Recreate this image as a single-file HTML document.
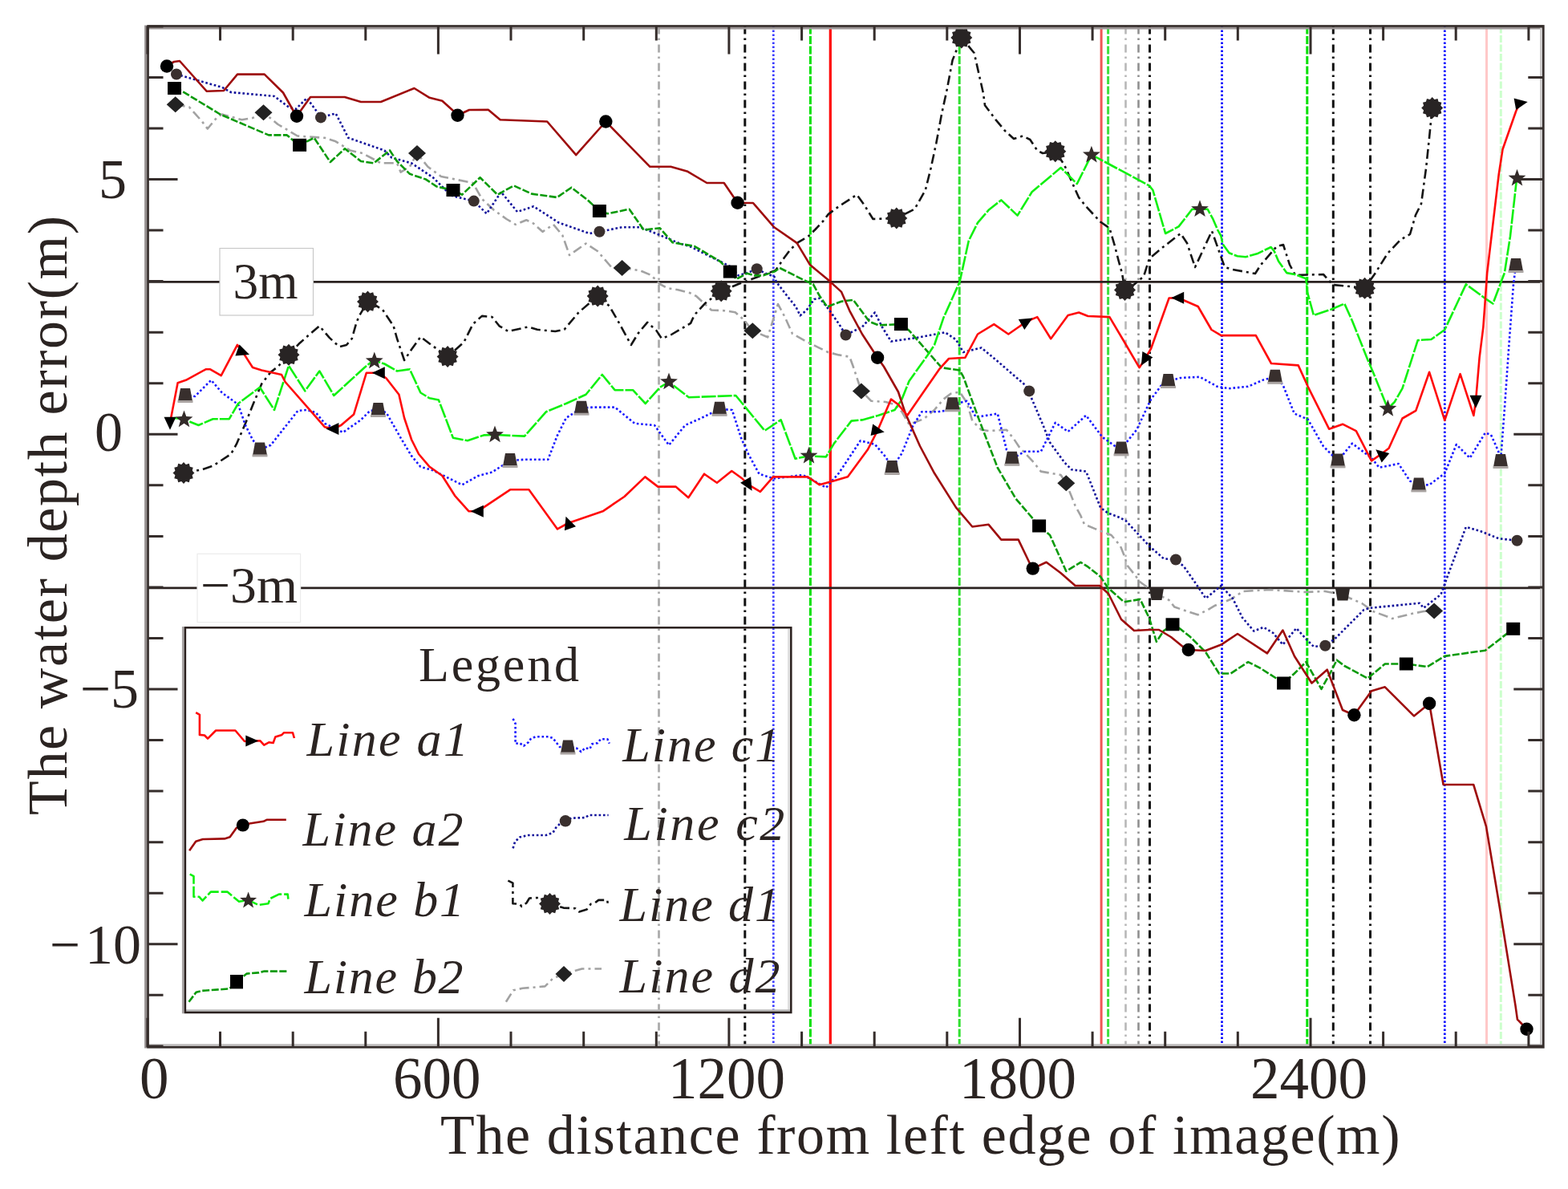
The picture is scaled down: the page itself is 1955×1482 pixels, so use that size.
<!DOCTYPE html><html><head><meta charset="utf-8"><style>html,body{margin:0;padding:0;background:#fff;}svg{display:block}</style></head><body>
<svg width="1955" height="1482" viewBox="0 0 1955 1482">
<rect width="1955" height="1482" fill="#fff"/>
<g id="vlines"><line x1="821.5" y1="32.5" x2="821.5" y2="1305.3" stroke="#acacac" stroke-width="2.8" stroke-dasharray="10 5 2.5 5.5" opacity="1"/><line x1="928.8" y1="32.5" x2="928.8" y2="1305.3" stroke="#111" stroke-width="3" stroke-dasharray="10 5 2.5 5.5" opacity="1"/><line x1="964.3" y1="32.5" x2="964.3" y2="1305.3" stroke="#3b3bff" stroke-width="2.7" stroke-dasharray="2.6 2.4" opacity="1"/><line x1="1010.4" y1="32.5" x2="1010.4" y2="1305.3" stroke="#00e000" stroke-width="3" stroke-dasharray="10 2.5" opacity="1"/><line x1="1035.3" y1="32.5" x2="1035.3" y2="1305.3" stroke="#ff0000" stroke-width="3.2" opacity="1"/><line x1="1196.2" y1="32.5" x2="1196.2" y2="1305.3" stroke="#30e030" stroke-width="3" stroke-dasharray="10 2.5" opacity="1"/><line x1="1373.1" y1="32.5" x2="1373.1" y2="1305.3" stroke="#f05555" stroke-width="3" opacity="1"/><line x1="1381.6" y1="32.5" x2="1381.6" y2="1305.3" stroke="#40e040" stroke-width="3" stroke-dasharray="10 2.5" opacity="1"/><line x1="1403.5" y1="32.5" x2="1403.5" y2="1305.3" stroke="#b8b8b8" stroke-width="2.6" stroke-dasharray="10 5 2.5 5.5" opacity="1"/><line x1="1419.5" y1="32.5" x2="1419.5" y2="1305.3" stroke="#909090" stroke-width="2.6" stroke-dasharray="10 5 2.5 5.5" opacity="1"/><line x1="1433.5" y1="32.5" x2="1433.5" y2="1305.3" stroke="#111" stroke-width="3" stroke-dasharray="10 5 2.5 5.5" opacity="1"/><line x1="1523.5" y1="32.5" x2="1523.5" y2="1305.3" stroke="#0000ff" stroke-width="2.7" stroke-dasharray="2.6 2.4" opacity="1"/><line x1="1629.8" y1="32.5" x2="1629.8" y2="1305.3" stroke="#00e000" stroke-width="3" stroke-dasharray="10 2.5" opacity="1"/><line x1="1662.3" y1="32.5" x2="1662.3" y2="1305.3" stroke="#111" stroke-width="3" stroke-dasharray="10 5 2.5 5.5" opacity="1"/><line x1="1708.5" y1="32.5" x2="1708.5" y2="1305.3" stroke="#111" stroke-width="3" stroke-dasharray="10 5 2.5 5.5" opacity="1"/><line x1="1801.3" y1="32.5" x2="1801.3" y2="1305.3" stroke="#0000ff" stroke-width="2.7" stroke-dasharray="2.6 2.4" opacity="1"/><line x1="1853.5" y1="32.5" x2="1853.5" y2="1305.3" stroke="#ffc8c8" stroke-width="3" opacity="1"/><line x1="1871.3" y1="32.5" x2="1871.3" y2="1305.3" stroke="#ccffcc" stroke-width="3" stroke-dasharray="9 2.5" opacity="1"/></g>
<line x1="184.5" y1="351.3" x2="1924.3" y2="351.3" stroke="#2a2220" stroke-width="2.8"/>
<line x1="184.5" y1="732.8" x2="1924.3" y2="732.8" stroke="#2a2220" stroke-width="2.8"/>
<polyline points="218.7,130.3 236.0,133.5 252.0,151.5 258.8,160.5 270.0,147.0 276.8,142.5 301.5,149.3 315.0,147.0 328.5,140.3 346.5,155.0 371.0,169.5 405.0,171.8 418.6,176.3 436.6,187.5 452.0,191.0 474.8,203.3 495.0,203.3 499.6,214.6 511.0,207.8 520.0,191.0 533.4,207.8 550.0,220.0 589.6,228.0 601.0,248.0 615.8,261.8 631.5,273.0 642.8,279.8 656.3,274.2 665.3,278.7 676.5,288.8 690.0,279.8 701.3,293.3 710.0,318.0 730.5,303.5 745.0,313.0 762.0,332.7 775.6,333.9 798.0,337.2 811.6,342.9 822.8,354.0 831.8,359.0 845.3,361.3 860.0,365.0 868.0,369.0 887.0,386.5 903.0,387.2 916.7,389.2 927.5,398.7 938.3,412.2 957.2,420.3 970.0,379.0 979.0,396.0 988.0,416.0 1003.0,424.3 1020.9,433.3 1032.3,439.0 1045.8,442.4 1059.3,444.7 1063.8,457.0 1068.3,470.5 1073.9,487.4 1086.3,499.8 1104.3,501.0 1115.5,504.3 1124.5,513.3 1133.5,529.0 1151.5,522.3 1165.0,511.0 1176.3,497.6 1185.3,490.8 1196.6,488.5 1205.6,502.0 1212.3,524.6 1223.6,535.8 1232.6,537.0 1255.0,535.8 1264.0,547.0 1270.8,557.2 1288.8,576.3 1297.8,587.6 1322.6,592.0 1329.3,602.2 1340.6,630.3 1347.4,642.7 1351.9,653.5 1365.4,659.1 1385.6,667.0 1396.9,680.5 1401.4,691.8 1405.9,705.3 1414.9,716.5 1421.6,725.5 1441.5,740.0 1457.6,748.0 1464.4,756.6 1476.0,760.5 1493.5,766.3 1505.2,760.5 1515.0,754.7 1534.4,747.0 1550.0,737.0 1583.0,735.0 1628.0,738.0 1652.0,737.0 1673.3,741.0 1684.0,746.0 1698.0,752.0 1712.0,762.0 1736.0,771.0 1760.0,765.0 1775.0,762.0 1788.1,761.4" fill="none" stroke="#a2a2a2" stroke-width="2.6" stroke-linejoin="round" stroke-dasharray="12 5 3 5"/>
<polyline points="228.4,589.7 252.0,585.2 265.5,580.7 288.0,566.0 294.8,553.7 306.0,527.8 315.0,505.3 326.3,478.3 337.6,463.7 346.5,457.0 360.0,442.3 373.6,427.7 382.6,419.8 398.3,406.3 410.7,420.9 423.0,432.2 432.0,430.0 438.8,422.0 444.5,401.8 447.8,393.9 459.0,374.8 477.0,386.0 490.6,406.3 495.0,422.0 504.1,449.0 513.1,435.5 524.4,419.8 537.9,430.0 558.1,444.5 578.4,426.5 589.6,404.0 600.9,393.9 613.5,395.0 622.5,406.3 633.8,413.0 658.5,407.4 669.8,410.8 692.3,413.0 703.5,410.8 721.5,389.4 745.2,369.1 759.8,381.5 773.3,405.0 786.8,430.0 795.8,415.3 807.1,401.8 818.3,411.9 825.0,422.0 836.3,417.5 849.8,409.6 861.1,402.9 865.6,392.8 879.1,378.1 899.2,362.8 922.0,353.5 967.0,337.0 977.4,321.8 985.5,311.0 995.0,302.2 1008.4,294.1 1016.5,286.0 1026.0,275.9 1032.7,267.1 1046.2,257.0 1068.3,242.7 1077.3,255.0 1088.5,273.0 1117.8,272.0 1140.3,260.7 1153.8,237.0 1160.5,210.0 1167.3,178.5 1174.0,142.5 1180.8,111.0 1187.6,75.0 1198.8,46.9 1214.6,66.0 1225.8,115.5 1228.0,131.3 1241.6,149.3 1252.8,162.8 1264.0,173.0 1275.3,169.5 1284.3,174.0 1293.3,187.5 1300.0,191.0 1315.8,188.7 1327.0,205.6 1345.0,246.0 1354.0,257.3 1372.0,276.5 1383.4,284.3 1390.0,306.8 1394.6,324.8 1399.0,340.6 1402.5,361.4 1412.6,355.8 1426.0,344.5 1432.9,322.6 1447.6,310.0 1472.0,291.0 1480.0,303.0 1490.0,333.0 1511.0,288.0 1527.0,333.0 1537.0,336.0 1565.0,341.0 1572.0,330.0 1592.0,307.0 1600.0,305.0 1608.0,330.0 1615.0,343.0 1650.0,342.0 1662.0,355.0 1683.0,357.0 1701.6,359.3 1715.0,340.0 1730.0,316.0 1746.0,299.0 1758.0,292.0 1765.0,268.0 1772.0,254.0 1778.0,210.0 1782.0,172.0 1785.7,134.6" fill="none" stroke="#151515" stroke-width="2.6" stroke-linejoin="round" stroke-dasharray="12 5 3 5"/>
<polyline points="220.0,92.5 276.8,108.8 288.0,115.0 342.0,120.0 360.0,133.5 369.0,135.8 382.6,122.3 396.0,140.3 400.0,146.4 418.6,141.4 434.3,171.8 479.3,187.5 488.4,196.6 513.0,203.3 540.0,221.3 562.6,243.8 590.8,250.6 606.8,266.3 624.8,239.3 645.0,264.0 665.3,257.3 696.8,277.6 735.0,291.0 747.4,288.8 775.6,283.2 798.0,283.2 820.6,292.2 847.6,303.5 860.0,307.0 900.5,327.2 911.3,332.6 920.7,343.4 930.2,340.7 943.7,335.3 954.5,340.7 965.3,344.7 968.0,351.5 981.5,369.0 992.3,382.5 997.7,393.3 1005.7,386.5 1015.2,373.0 1022.0,371.7 1034.0,386.5 1046.2,404.1 1054.5,417.5 1075.0,407.5 1090.8,389.5 1099.8,407.5 1111.0,425.5 1142.5,421.0 1178.5,414.3 1192.0,423.3 1201.0,439.0 1223.6,433.4 1243.8,450.3 1277.6,479.5 1283.2,487.4 1286.6,497.6 1300.1,529.0 1309.1,551.6 1327.1,576.3 1336.1,585.3 1354.1,587.6 1372.1,632.6 1381.1,639.3 1394.6,644.5 1403.6,649.0 1432.9,680.5 1450.9,696.3 1466.0,697.5 1476.0,706.0 1489.7,725.5 1503.3,745.8 1522.5,730.1 1536.9,745.8 1549.0,769.8 1563.4,786.6 1575.4,781.8 1587.4,789.0 1599.4,803.5 1616.3,783.0 1628.3,796.3 1637.9,805.9 1652.3,804.7 1664.3,796.3 1700.4,760.2 1707.6,757.8 1770.1,751.8 1774.9,757.8 1796.5,741.0 1806.2,714.5 1827.8,656.8 1844.6,661.6 1868.7,671.3 1891.5,673.7" fill="none" stroke="#10109a" stroke-width="2.6" stroke-linejoin="round" stroke-dasharray="2.6 2.8"/>
<polyline points="230.6,491.8 243.0,494.0 263.3,473.8 276.8,489.5 297.0,504.2 306.0,530.0 315.0,548.0 324.0,560.4 337.6,554.8 371.3,512.0 382.6,511.0 393.8,514.3 405.0,527.8 427.6,539.0 450.0,523.3 461.3,512.0 471.5,511.0 481.6,514.3 499.6,545.8 513.1,568.3 524.4,581.8 540.0,586.3 558.0,595.3 576.1,604.3 596.4,593.0 613.5,588.6 636.0,574.0 654.0,572.8 683.3,572.8 694.5,543.6 705.8,521.0 725.0,508.7 739.5,507.6 766.6,507.6 791.3,527.8 816.0,530.0 834.0,554.8 854.3,530.0 874.6,521.0 897.1,509.8 912.8,511.0 924.0,545.8 933.1,566.0 946.6,590.8 964.6,596.5 1000.6,592.0 1011.9,597.6 1030.0,607.8 1045.8,589.8 1059.3,569.6 1072.8,549.3 1090.8,553.8 1104.3,569.6 1112.2,583.0 1124.5,565.0 1138.0,531.3 1149.3,513.3 1169.5,513.3 1183.0,511.0 1187.6,504.3 1205.6,499.8 1216.8,520.0 1243.8,515.6 1255.0,560.6 1261.8,571.8 1277.6,562.8 1297.8,562.8 1309.1,540.3 1315.8,526.8 1331.6,538.0 1354.1,517.8 1374.4,544.8 1390.1,556.0 1398.0,559.4 1417.1,535.8 1435.1,497.6 1448.6,479.5 1456.5,475.0 1472.0,471.0 1496.0,469.8 1517.7,481.8 1532.0,484.2 1556.0,481.8 1575.4,473.4 1589.8,469.8 1599.4,479.4 1613.8,515.5 1630.7,522.7 1650.0,556.3 1668.0,574.4 1686.0,552.7 1710.0,570.8 1719.6,582.8 1743.7,578.0 1758.0,599.6 1768.9,604.4 1782.0,604.4 1801.3,590.0 1815.8,554.0 1832.6,570.8 1851.8,539.5 1859.0,542.0 1868.0,562.0 1871.0,575.0 1876.0,508.0 1881.0,436.0 1887.0,354.0 1890.0,331.0" fill="none" stroke="#1818ff" stroke-width="2.6" stroke-linejoin="round" stroke-dasharray="2.6 2.8"/>
<polyline points="217.5,110.0 226.0,113.0 274.5,142.5 335.0,168.4 357.8,168.4 366.8,176.0 373.6,180.8 391.6,171.8 411.8,202.0 430.0,185.3 450.0,201.0 466.0,203.3 486.0,187.5 495.0,201.0 511.0,216.8 531.0,223.6 544.6,232.6 565.0,237.0 576.0,242.7 598.6,221.3 620.3,242.7 640.5,231.4 663.0,241.6 694.5,246.0 712.5,233.7 732.8,249.4 747.4,263.0 757.6,266.3 784.6,260.7 802.6,286.6 822.8,284.3 838.6,302.3 865.6,306.8 897.8,325.8 910.3,338.6 918.0,348.0 931.5,340.7 941.0,343.4 951.8,343.4 966.6,338.0 972.0,333.9 1001.7,348.8 1013.8,354.2 1022.0,369.0 1031.4,382.5 1038.1,379.8 1049.0,375.7 1063.8,373.8 1084.0,400.8 1095.3,405.3 1123.4,404.1 1133.5,412.0 1174.0,458.2 1196.5,461.5 1201.0,469.4 1221.3,524.6 1243.8,583.0 1266.3,621.3 1295.6,655.5 1309.1,667.0 1329.3,712.0 1347.4,700.8 1356.4,706.4 1372.1,718.8 1381.1,732.3 1401.4,750.3 1421.6,747.0 1432.9,770.5 1441.9,799.8 1450.9,786.3 1462.0,778.3 1472.0,784.2 1484.0,793.8 1503.3,813.0 1520.0,839.5 1534.5,839.5 1556.2,825.1 1570.6,832.3 1600.6,851.5 1613.8,839.5 1628.3,825.1 1637.9,842.0 1647.5,858.8 1659.5,837.1 1666.7,822.7 1676.3,830.0 1705.2,845.5 1726.8,827.5 1753.3,827.5 1779.7,831.1 1801.3,817.9 1851.8,810.7 1886.7,783.8" fill="none" stroke="#0a9a0a" stroke-width="2.6" stroke-linejoin="round" stroke-dasharray="9 2.5"/>
<polyline points="217.0,521.0 228.4,522.2 247.5,530.0 265.5,522.2 285.8,522.2 297.0,503.0 324.0,482.8 342.0,511.0 360.0,455.8 380.3,487.3 398.3,462.5 416.3,493.0 454.6,458.0 465.8,449.0 479.3,453.5 495.0,462.5 510.9,460.3 524.4,489.5 535.6,496.3 546.9,498.5 564.9,545.8 582.9,549.2 603.1,542.4 617.0,542.0 654.0,543.6 681.0,513.2 705.8,503.0 730.5,491.8 750.8,467.0 766.6,486.2 789.1,486.2 804.8,503.0 822.8,482.8 834.0,476.0 858.8,495.2 917.4,493.0 953.4,536.8 973.6,523.3 991.6,571.7 1008.5,568.3 1029.9,569.4 1040.0,552.6 1061.5,524.6 1075.0,523.4 1095.3,517.8 1115.5,511.0 1124.5,497.6 1133.5,475.0 1156.0,443.5 1165.0,430.0 1176.3,396.3 1196.6,351.3 1207.8,300.0 1219.0,277.6 1232.6,261.8 1248.3,249.4 1268.6,268.6 1286.6,239.3 1322.6,209.0 1342.8,229.2 1358.6,197.7 1360.9,193.2 1369.9,197.7 1403.6,215.7 1432.9,231.4 1437.4,237.0 1453.1,291.0 1469.6,282.4 1486.4,260.8 1496.0,260.8 1505.7,260.8 1512.0,272.3 1518.2,286.6 1522.3,293.8 1524.4,304.0 1532.5,315.2 1542.8,319.3 1553.0,320.3 1567.3,316.3 1584.7,308.0 1588.8,313.2 1594.0,325.5 1604.2,340.1 1616.3,342.5 1628.3,347.3 1630.0,364.0 1637.9,392.9 1659.5,385.7 1676.3,378.5 1686.0,400.0 1705.2,448.2 1712.4,465.0 1730.4,509.5 1738.8,501.0 1748.5,484.2 1767.7,424.1 1784.5,423.0 1801.3,411.0 1827.8,354.4 1854.2,373.7 1861.4,378.5 1875.9,340.0 1883.0,294.4 1890.3,229.5 1891.5,222.3" fill="none" stroke="#10f010" stroke-width="2.6" stroke-linejoin="round" stroke-dasharray="18 2"/>
<polyline points="207.5,81.8 217.0,77.0 224.0,76.0 257.6,113.7 279.0,113.0 296.0,92.6 329.7,92.6 353.0,115.5 366.8,140.0 370.0,144.8 387.0,121.0 429.8,121.0 450.0,127.0 474.8,127.0 516.5,110.0 535.6,121.8 551.4,125.7 565.0,138.0 570.5,143.7 585.0,137.0 609.0,136.9 623.6,149.3 682.2,151.5 718.2,193.2 755.3,151.5 762.0,158.3 810.4,207.8 836.3,207.8 856.6,213.4 881.3,228.0 902.7,228.0 919.6,252.8 939.0,253.0 965.3,283.3 993.6,302.9 1009.8,329.9 1034.0,350.1 1048.9,363.6 1059.3,387.3 1075.0,416.5 1094.1,445.8 1102.0,457.0 1120.0,488.5 1129.0,515.6 1147.0,556.0 1165.0,589.8 1192.0,632.6 1212.3,656.5 1232.6,653.8 1248.3,672.6 1269.7,672.6 1284.3,703.0 1287.7,708.6 1304.6,700.8 1322.6,714.3 1340.6,730.0 1371.0,730.0 1382.0,740.0 1398.0,772.0 1414.0,786.0 1433.0,785.0 1445.0,785.0 1460.0,794.0 1476.0,807.0 1481.8,810.0 1503.0,811.0 1522.6,803.5 1543.0,790.0 1580.0,814.3 1599.4,785.5 1614.0,818.0 1635.5,851.5 1654.7,834.7 1674.0,885.0 1688.4,891.2 1710.0,861.2 1726.8,856.3 1762.9,892.4 1774.9,882.8 1782.1,876.8 1794.7,950.0 1799.6,978.0 1837.2,978.0 1853.0,1030.2 1870.0,1132.2 1889.5,1253.6 1891.9,1270.6 1896.7,1275.5 1903.5,1282.8" fill="none" stroke="#9e0c0c" stroke-width="2.6" stroke-linejoin="round"/>
<polyline points="212.0,527.0 221.6,477.2 231.8,473.8 256.5,460.3 262.2,460.3 275.7,468.2 295.9,429.9 302.7,438.9 315.0,458.0 326.3,461.4 351.0,467.0 355.6,476.0 405.0,532.3 415.2,534.6 425.3,530.0 441.1,516.5 456.8,464.8 472.6,464.8 481.6,471.5 497.4,491.8 504.1,521.0 513.1,548.0 522.1,566.0 535.6,581.8 551.4,593.0 567.1,617.8 584.6,637.3 595.6,637.3 636.1,610.3 659.4,610.3 695.0,659.4 708.5,652.0 751.5,637.3 778.5,619.0 804.3,594.4 820.3,606.6 842.4,606.6 858.3,620.2 878.0,590.7 893.9,601.7 912.3,587.0 925.8,596.8 933.2,604.2 947.9,612.8 964.0,594.4 1007.0,594.4 1021.6,604.2 1040.0,599.3 1057.0,594.3 1081.8,560.6 1094.0,537.0 1111.0,497.6 1120.0,504.3 1131.3,517.8 1151.5,488.5 1171.8,459.3 1183.0,447.0 1203.3,445.8 1219.0,416.5 1239.3,404.1 1257.3,416.5 1279.8,400.8 1293.3,395.1 1310.2,422.2 1331.6,392.9 1345.1,389.5 1356.4,394.0 1383.4,395.1 1401.4,425.5 1420.5,458.2 1427.3,448.0 1435.1,434.5 1457.6,371.5 1469.0,371.3 1493.7,382.0 1510.5,411.0 1522.5,418.1 1565.8,418.1 1585.0,453.0 1618.7,455.4 1630.7,481.8 1657.1,534.7 1674.0,528.7 1690.8,537.1 1710.0,574.4 1722.0,566.0 1731.6,558.8 1748.5,521.5 1765.3,511.9 1782.1,463.8 1801.3,523.9 1820.6,466.2 1837.4,517.9 1840.0,500.0 1844.6,445.8 1849.4,407.3 1854.2,340.0 1868.7,217.5 1873.5,186.3 1890.3,138.2 1895.0,128.6" fill="none" stroke="#ff0a0a" stroke-width="2.6" stroke-linejoin="round"/>
<polygon points="218.7,120.3 229.7,130.3 218.7,140.3 207.7,130.3" fill="#222"/>
<polygon points="328.5,130.3 339.5,140.3 328.5,150.3 317.5,140.3" fill="#222"/>
<polygon points="520.0,181.0 531.0,191.0 520.0,201.0 509.0,191.0" fill="#222"/>
<polygon points="775.6,323.9 786.6,333.9 775.6,343.9 764.6,333.9" fill="#222"/>
<polygon points="938.3,402.2 949.3,412.2 938.3,422.2 927.3,412.2" fill="#222"/>
<polygon points="1073.9,477.4 1084.9,487.4 1073.9,497.4 1062.9,487.4" fill="#222"/>
<polygon points="1329.3,592.2 1340.3,602.2 1329.3,612.2 1318.3,602.2" fill="#222"/>
<polygon points="1788.1,751.4 1799.1,761.4 1788.1,771.4 1777.1,761.4" fill="#222"/>
<polygon points="229.0,576.0 231.8,578.9 235.8,577.8 236.8,581.7 240.7,582.8 239.6,586.7 242.5,589.5 239.6,592.3 240.7,596.2 236.8,597.3 235.8,601.2 231.8,600.1 229.0,603.0 226.2,600.1 222.2,601.2 221.2,597.3 217.3,596.2 218.4,592.3 215.5,589.5 218.4,586.7 217.3,582.8 221.2,581.7 222.2,577.8 226.2,578.9" fill="#282424"/>
<polygon points="360.0,428.8 362.8,431.7 366.8,430.6 367.8,434.5 371.7,435.6 370.6,439.5 373.5,442.3 370.6,445.1 371.7,449.1 367.8,450.1 366.8,454.0 362.8,452.9 360.0,455.8 357.2,452.9 353.2,454.0 352.2,450.1 348.3,449.1 349.4,445.1 346.5,442.3 349.4,439.5 348.3,435.6 352.2,434.5 353.2,430.6 357.2,431.7" fill="#282424"/>
<polygon points="458.5,362.5 461.3,365.4 465.2,364.3 466.3,368.2 470.2,369.2 469.1,373.2 472.0,376.0 469.1,378.8 470.2,382.8 466.3,383.8 465.2,387.7 461.3,386.6 458.5,389.5 455.7,386.6 451.8,387.7 450.7,383.8 446.8,382.8 447.9,378.8 445.0,376.0 447.9,373.2 446.8,369.2 450.7,368.2 451.8,364.3 455.7,365.4" fill="#282424"/>
<polygon points="558.1,431.0 560.9,433.9 564.9,432.8 565.9,436.7 569.8,437.8 568.7,441.7 571.6,444.5 568.7,447.3 569.8,451.2 565.9,452.3 564.9,456.2 560.9,455.1 558.1,458.0 555.3,455.1 551.4,456.2 550.3,452.3 546.4,451.2 547.5,447.3 544.6,444.5 547.5,441.7 546.4,437.8 550.3,436.7 551.4,432.8 555.3,433.9" fill="#282424"/>
<polygon points="745.2,355.6 748.0,358.5 752.0,357.4 753.0,361.3 756.9,362.4 755.8,366.3 758.7,369.1 755.8,371.9 756.9,375.9 753.0,376.9 752.0,380.8 748.0,379.7 745.2,382.6 742.4,379.7 738.5,380.8 737.4,376.9 733.5,375.9 734.6,371.9 731.7,369.1 734.6,366.3 733.5,362.4 737.4,361.3 738.5,357.4 742.4,358.5" fill="#282424"/>
<polygon points="899.2,349.3 902.0,352.2 906.0,351.1 907.0,355.0 910.9,356.1 909.8,360.0 912.7,362.8 909.8,365.6 910.9,369.6 907.0,370.6 906.0,374.5 902.0,373.4 899.2,376.3 896.4,373.4 892.5,374.5 891.4,370.6 887.5,369.6 888.6,365.6 885.7,362.8 888.6,360.0 887.5,356.1 891.4,355.0 892.5,351.1 896.4,352.2" fill="#282424"/>
<polygon points="1117.8,258.5 1120.6,261.4 1124.5,260.3 1125.6,264.2 1129.5,265.2 1128.4,269.2 1131.3,272.0 1128.4,274.8 1129.5,278.8 1125.6,279.8 1124.5,283.7 1120.6,282.6 1117.8,285.5 1115.0,282.6 1111.0,283.7 1110.0,279.8 1106.1,278.8 1107.2,274.8 1104.3,272.0 1107.2,269.2 1106.1,265.2 1110.0,264.2 1111.0,260.3 1115.0,261.4" fill="#282424"/>
<polygon points="1198.8,33.4 1201.6,36.3 1205.5,35.2 1206.6,39.1 1210.5,40.1 1209.4,44.1 1212.3,46.9 1209.4,49.7 1210.5,53.6 1206.6,54.7 1205.5,58.6 1201.6,57.5 1198.8,60.4 1196.0,57.5 1192.0,58.6 1191.0,54.7 1187.1,53.6 1188.2,49.7 1185.3,46.9 1188.2,44.1 1187.1,40.1 1191.0,39.1 1192.0,35.2 1196.0,36.3" fill="#282424"/>
<polygon points="1315.8,175.2 1318.6,178.1 1322.5,177.0 1323.6,180.9 1327.5,181.9 1326.4,185.9 1329.3,188.7 1326.4,191.5 1327.5,195.4 1323.6,196.5 1322.5,200.4 1318.6,199.3 1315.8,202.2 1313.0,199.3 1309.0,200.4 1308.0,196.5 1304.1,195.4 1305.2,191.5 1302.3,188.7 1305.2,185.9 1304.1,181.9 1308.0,180.9 1309.0,177.0 1313.0,178.1" fill="#282424"/>
<polygon points="1402.5,347.9 1405.3,350.8 1409.2,349.7 1410.3,353.6 1414.2,354.6 1413.1,358.6 1416.0,361.4 1413.1,364.2 1414.2,368.1 1410.3,369.2 1409.2,373.1 1405.3,372.0 1402.5,374.9 1399.7,372.0 1395.8,373.1 1394.7,369.2 1390.8,368.1 1391.9,364.2 1389.0,361.4 1391.9,358.6 1390.8,354.6 1394.7,353.6 1395.8,349.7 1399.7,350.8" fill="#282424"/>
<polygon points="1701.6,345.8 1704.4,348.7 1708.3,347.6 1709.4,351.5 1713.3,352.6 1712.2,356.5 1715.1,359.3 1712.2,362.1 1713.3,366.1 1709.4,367.1 1708.3,371.0 1704.4,369.9 1701.6,372.8 1698.8,369.9 1694.8,371.0 1693.8,367.1 1689.9,366.1 1691.0,362.1 1688.1,359.3 1691.0,356.5 1689.9,352.6 1693.8,351.5 1694.8,347.6 1698.8,348.7" fill="#282424"/>
<polygon points="1785.7,121.1 1788.5,124.0 1792.5,122.9 1793.5,126.8 1797.4,127.8 1796.3,131.8 1799.2,134.6 1796.3,137.4 1797.4,141.3 1793.5,142.4 1792.5,146.3 1788.5,145.2 1785.7,148.1 1782.9,145.2 1779.0,146.3 1777.9,142.4 1774.0,141.3 1775.1,137.4 1772.2,134.6 1775.1,131.8 1774.0,127.8 1777.9,126.8 1779.0,122.9 1782.9,124.0" fill="#282424"/>
<circle cx="220" cy="92.5" r="7" fill="#3a302e"/>
<circle cx="400" cy="146.4" r="7" fill="#3a302e"/>
<circle cx="590.8" cy="250.6" r="7" fill="#3a302e"/>
<circle cx="747.4" cy="288.8" r="7" fill="#3a302e"/>
<circle cx="943.7" cy="335.3" r="7" fill="#3a302e"/>
<circle cx="1054.5" cy="417.5" r="7" fill="#3a302e"/>
<circle cx="1283.2" cy="487.4" r="7" fill="#3a302e"/>
<circle cx="1466" cy="697.5" r="7" fill="#3a302e"/>
<circle cx="1652.3" cy="804.7" r="7" fill="#3a302e"/>
<circle cx="1891.5" cy="673.7" r="7" fill="#3a302e"/>
<polygon points="225.0,484.0 237.0,484.0 240.0,500.0 222.0,500.0" fill="#382f2d"/><rect x="221.5" y="499.0" width="19" height="3" fill="#a9a3a1"/>
<polygon points="318.0,551.4 330.0,551.4 333.0,567.4 315.0,567.4" fill="#382f2d"/><rect x="314.5" y="566.4" width="19" height="3" fill="#a9a3a1"/>
<polygon points="465.5,502.0 477.5,502.0 480.5,518.0 462.5,518.0" fill="#382f2d"/><rect x="462.0" y="517.0" width="19" height="3" fill="#a9a3a1"/>
<polygon points="630.0,565.0 642.0,565.0 645.0,581.0 627.0,581.0" fill="#382f2d"/><rect x="626.5" y="580.0" width="19" height="3" fill="#a9a3a1"/>
<polygon points="719.0,499.7 731.0,499.7 734.0,515.7 716.0,515.7" fill="#382f2d"/><rect x="715.5" y="514.7" width="19" height="3" fill="#a9a3a1"/>
<polygon points="891.1,500.8 903.1,500.8 906.1,516.8 888.1,516.8" fill="#382f2d"/><rect x="887.6" y="515.8" width="19" height="3" fill="#a9a3a1"/>
<polygon points="1106.2,574.0 1118.2,574.0 1121.2,590.0 1103.2,590.0" fill="#382f2d"/><rect x="1102.7" y="589.0" width="19" height="3" fill="#a9a3a1"/>
<polygon points="1181.6,495.3 1193.6,495.3 1196.6,511.3 1178.6,511.3" fill="#382f2d"/><rect x="1178.1" y="510.3" width="19" height="3" fill="#a9a3a1"/>
<polygon points="1255.8,562.8 1267.8,562.8 1270.8,578.8 1252.8,578.8" fill="#382f2d"/><rect x="1252.3" y="577.8" width="19" height="3" fill="#a9a3a1"/>
<polygon points="1392.0,550.4 1404.0,550.4 1407.0,566.4 1389.0,566.4" fill="#382f2d"/><rect x="1388.5" y="565.4" width="19" height="3" fill="#a9a3a1"/>
<polygon points="1450.5,466.0 1462.5,466.0 1465.5,482.0 1447.5,482.0" fill="#382f2d"/><rect x="1447.0" y="481.0" width="19" height="3" fill="#a9a3a1"/>
<polygon points="1583.8,460.8 1595.8,460.8 1598.8,476.8 1580.8,476.8" fill="#382f2d"/><rect x="1580.3" y="475.8" width="19" height="3" fill="#a9a3a1"/>
<polygon points="1662.0,565.4 1674.0,565.4 1677.0,581.4 1659.0,581.4" fill="#382f2d"/><rect x="1658.5" y="580.4" width="19" height="3" fill="#a9a3a1"/>
<polygon points="1762.9,595.4 1774.9,595.4 1777.9,611.4 1759.9,611.4" fill="#382f2d"/><rect x="1759.4" y="610.4" width="19" height="3" fill="#a9a3a1"/>
<polygon points="1865.0,566.0 1877.0,566.0 1880.0,582.0 1862.0,582.0" fill="#382f2d"/><rect x="1861.5" y="581.0" width="19" height="3" fill="#a9a3a1"/>
<polygon points="1884.0,322.0 1896.0,322.0 1899.0,338.0 1881.0,338.0" fill="#382f2d"/><rect x="1880.5" y="337.0" width="19" height="3" fill="#a9a3a1"/>
<polygon points="1433.0,733.0 1451.0,733.0 1448.5,748.0 1435.5,748.0" fill="#2e2826"/>
<polygon points="1665.0,733.5 1683.0,733.5 1680.5,748.5 1667.5,748.5" fill="#2e2826"/>
<rect x="209.0" y="102.0" width="17" height="16" fill="#000"/>
<rect x="365.1" y="172.8" width="17" height="16" fill="#000"/>
<rect x="556.5" y="229.0" width="17" height="16" fill="#000"/>
<rect x="738.9" y="255.0" width="17" height="16" fill="#000"/>
<rect x="901.8" y="330.6" width="17" height="16" fill="#000"/>
<rect x="1114.9" y="396.1" width="17" height="16" fill="#000"/>
<rect x="1287.1" y="647.5" width="17" height="16" fill="#000"/>
<rect x="1453.5" y="770.3" width="17" height="16" fill="#000"/>
<rect x="1592.1" y="843.5" width="17" height="16" fill="#000"/>
<rect x="1744.8" y="819.5" width="17" height="16" fill="#000"/>
<rect x="1878.2" y="775.8" width="17" height="16" fill="#000"/>
<polygon points="229.5,511.5 232.3,519.1 240.4,519.4 234.1,524.5 236.3,532.3 229.5,527.8 222.7,532.3 224.9,524.5 218.6,519.4 226.7,519.1" fill="#332b29"/>
<polygon points="466.8,438.5 469.6,446.1 477.7,446.4 471.4,451.5 473.6,459.3 466.8,454.8 460.0,459.3 462.2,451.5 455.9,446.4 464.0,446.1" fill="#332b29"/>
<polygon points="617.0,530.5 619.8,538.1 627.9,538.4 621.6,543.5 623.8,551.3 617.0,546.8 610.2,551.3 612.4,543.5 606.1,538.4 614.2,538.1" fill="#332b29"/>
<polygon points="834.0,464.5 836.8,472.1 844.9,472.4 838.6,477.5 840.8,485.3 834.0,480.8 827.2,485.3 829.4,477.5 823.1,472.4 831.2,472.1" fill="#332b29"/>
<polygon points="1008.5,556.8 1011.3,564.4 1019.4,564.7 1013.1,569.8 1015.3,577.6 1008.5,573.1 1001.7,577.6 1003.9,569.8 997.6,564.7 1005.7,564.4" fill="#332b29"/>
<polygon points="1360.9,181.7 1363.7,189.3 1371.8,189.6 1365.5,194.7 1367.7,202.5 1360.9,198.0 1354.1,202.5 1356.3,194.7 1350.0,189.6 1358.1,189.3" fill="#332b29"/>
<polygon points="1496.0,249.3 1498.8,256.9 1506.9,257.2 1500.6,262.3 1502.8,270.1 1496.0,265.6 1489.2,270.1 1491.4,262.3 1485.1,257.2 1493.2,256.9" fill="#332b29"/>
<polygon points="1730.4,498.0 1733.2,505.6 1741.3,505.9 1735.0,511.0 1737.2,518.8 1730.4,514.3 1723.6,518.8 1725.8,511.0 1719.5,505.9 1727.6,505.6" fill="#332b29"/>
<polygon points="1891.5,210.8 1894.3,218.4 1902.4,218.7 1896.1,223.8 1898.3,231.6 1891.5,227.1 1884.7,231.6 1886.9,223.8 1880.6,218.7 1888.7,218.4" fill="#332b29"/>
<circle cx="208" cy="82.5" r="8.2" fill="#000"/>
<circle cx="370" cy="144.8" r="8.2" fill="#000"/>
<circle cx="570.5" cy="143.7" r="8.2" fill="#000"/>
<circle cx="755.3" cy="151.5" r="8.2" fill="#000"/>
<circle cx="919.6" cy="252.8" r="8.2" fill="#000"/>
<circle cx="1094.1" cy="445.8" r="8.2" fill="#000"/>
<circle cx="1287.7" cy="708.6" r="8.2" fill="#000"/>
<circle cx="1481.8" cy="810" r="8.2" fill="#000"/>
<circle cx="1688.4" cy="891.2" r="8.2" fill="#000"/>
<circle cx="1782.1" cy="876.8" r="8.2" fill="#000"/>
<circle cx="1903.5" cy="1282.8" r="8.2" fill="#000"/>
<polygon points="212.0,535.8 204.5,519.8 219.5,519.8" fill="#000"/>
<polygon points="311.0,441.9 293.4,443.5 298.5,429.4" fill="#000"/>
<polygon points="406.4,534.6 422.4,527.1 422.4,542.1" fill="#000"/>
<polygon points="463.8,464.8 479.8,457.3 479.8,472.3" fill="#000"/>
<polygon points="586.8,637.3 602.8,629.8 602.8,644.8" fill="#000"/>
<polygon points="705.5,643.7 718.0,656.2 703.9,661.3" fill="#000"/>
<polygon points="937.6,611.8 923.1,601.7 936.1,594.2" fill="#000"/>
<polygon points="1102.7,538.5 1085.6,543.1 1088.2,528.4" fill="#000"/>
<polygon points="1287.4,396.4 1277.3,410.9 1269.8,397.9" fill="#000"/>
<polygon points="1422.9,455.6 1424.4,438.0 1437.4,445.5" fill="#000"/>
<polygon points="1460.2,371.3 1476.2,363.8 1476.2,378.8" fill="#000"/>
<polygon points="1715.3,560.3 1732.3,564.9 1722.7,576.4" fill="#000"/>
<polygon points="1840.0,508.8 1832.5,492.8 1847.5,492.8" fill="#000"/>
<polygon points="1904.7,127.0 1890.2,137.1 1887.6,122.4" fill="#000"/>
<rect x="274" y="309.5" width="116.5" height="83.5" fill="#fff" stroke="#c8c8c8" stroke-width="1.2"/>
<text x="290.5" y="372.3" font-family="Liberation Serif" font-size="64" fill="#2b2422" textLength="81" lengthAdjust="spacingAndGlyphs">3m</text>
<rect x="246" y="690.3" width="128.6" height="85.3" fill="#fff" stroke="#ececec" stroke-width="1.2"/>
<text x="250" y="751" font-family="Liberation Serif" font-size="64" fill="#2b2422" textLength="121" lengthAdjust="spacingAndGlyphs">&#8722;3m</text>
<path d="M181.6 31.5V1306.5" stroke="#979191" stroke-width="3" fill="none"/>
<path d="M185 35.2H1923" stroke="#9c9696" stroke-width="2.8" fill="none"/>
<path d="M1921.4 34V1305" stroke="#cccaca" stroke-width="2.8" fill="none"/>
<path d="M183 1302.6H1923" stroke="#bdbbbb" stroke-width="2.8" fill="none"/>
<path d="M183.9 1305.3v-36.5M183.9 32.5v35M274.5 1305.3v-19.5M274.5 32.5v18M365.2 1305.3v-19.5M365.2 32.5v18M455.8 1305.3v-19.5M455.8 32.5v18M546.4 1305.3v-36.5M546.4 32.5v35M637.0 1305.3v-19.5M637.0 32.5v18M727.7 1305.3v-19.5M727.7 32.5v18M818.3 1305.3v-19.5M818.3 32.5v18M908.9 1305.3v-36.5M908.9 32.5v35M999.6 1305.3v-19.5M999.6 32.5v18M1090.2 1305.3v-19.5M1090.2 32.5v18M1180.8 1305.3v-19.5M1180.8 32.5v18M1271.5 1305.3v-36.5M1271.5 32.5v35M1362.1 1305.3v-19.5M1362.1 32.5v18M1452.7 1305.3v-19.5M1452.7 32.5v18M1543.3 1305.3v-19.5M1543.3 32.5v18M1634.0 1305.3v-36.5M1634.0 32.5v35M1724.6 1305.3v-19.5M1724.6 32.5v18M1815.2 1305.3v-19.5M1815.2 32.5v18M1905.9 1305.3v-19.5M1905.9 32.5v18M184.5 1303.9h19M1924.3 1303.9h-19M184.5 1240.3h19M1924.3 1240.3h-19M184.5 1176.8h37M1924.3 1176.8h-37M184.5 1113.2h19M1924.3 1113.2h-19M184.5 1049.7h19M1924.3 1049.7h-19M184.5 986.1h19M1924.3 986.1h-19M184.5 922.6h19M1924.3 922.6h-19M184.5 859.0h37M1924.3 859.0h-37M184.5 795.5h19M1924.3 795.5h-19M184.5 731.9h19M1924.3 731.9h-19M184.5 668.4h19M1924.3 668.4h-19M184.5 604.8h19M1924.3 604.8h-19M184.5 541.3h37M1924.3 541.3h-37M184.5 477.7h19M1924.3 477.7h-19M184.5 414.2h19M1924.3 414.2h-19M184.5 350.6h19M1924.3 350.6h-19M184.5 287.1h19M1924.3 287.1h-19M184.5 223.5h37M1924.3 223.5h-37M184.5 160.0h19M1924.3 160.0h-19M184.5 96.4h19M1924.3 96.4h-19M184.5 32.9h19M1924.3 32.9h-19" stroke="#352d2b" stroke-width="3" fill="none"/>
<rect x="184.5" y="32.5" width="1739.8" height="1272.8" fill="none" stroke="#352d2b" stroke-width="2.7"/>
<text x="174" y="1368.5" font-family="Liberation Serif" font-size="73" fill="#2b2422" text-anchor="start" >0</text>
<text x="490" y="1368.5" font-family="Liberation Serif" font-size="73" fill="#2b2422" text-anchor="start" >600</text>
<text x="833" y="1368.5" font-family="Liberation Serif" font-size="73" fill="#2b2422" text-anchor="start" >1200</text>
<text x="1196" y="1368.5" font-family="Liberation Serif" font-size="73" fill="#2b2422" text-anchor="start" >1800</text>
<text x="1559" y="1368.5" font-family="Liberation Serif" font-size="73" fill="#2b2422" text-anchor="start" >2400</text>
<text x="158" y="246.5" font-family="Liberation Serif" font-size="70" fill="#2b2422" text-anchor="end" >5</text>
<text x="153" y="562" font-family="Liberation Serif" font-size="70" fill="#2b2422" text-anchor="end" >0</text>
<text x="100" y="882" font-family="Liberation Serif" font-size="70" fill="#2b2422" text-anchor="start" textLength="38" lengthAdjust="spacingAndGlyphs">&#8722;</text>
<text x="173" y="882" font-family="Liberation Serif" font-size="70" fill="#2b2422" text-anchor="end" >5</text>
<text x="62" y="1200.5" font-family="Liberation Serif" font-size="70" fill="#2b2422" text-anchor="start" textLength="38" lengthAdjust="spacingAndGlyphs">&#8722;</text>
<text x="176" y="1200.5" font-family="Liberation Serif" font-size="70" fill="#2b2422" text-anchor="end" >10</text>
<text x="549" y="1437.5" font-family="Liberation Serif" font-size="70" fill="#2b2422" textLength="1196.5" lengthAdjust="spacing">The distance from left edge of image(m)</text>
<text transform="translate(82.5,1016) rotate(-90)" x="0" y="0" font-family="Liberation Serif" font-size="70" fill="#2b2422" textLength="747" lengthAdjust="spacing">The water depth error(m)</text>
<path d="M228.3 781V1263.3" stroke="#a8a4a4" stroke-width="2.8" fill="none"/>
<path d="M983.5 784V1260" stroke="#dddddd" stroke-width="2.8" fill="none"/>
<path d="M232 1259.6H985" stroke="#b8b8b8" stroke-width="2.8" fill="none"/>
<rect x="230.9" y="782.3" width="755.4" height="479.7" fill="none" stroke="#2a201e" stroke-width="2.5"/>
<polyline points="630.9,1248.8 640.0,1234.3 651.6,1231.8 679.5,1229.4 689.2,1219.7 703.0,1214.0 725.7,1207.5 750.0,1207.5" fill="none" stroke="#a2a2a2" stroke-width="2.6" stroke-linejoin="round" stroke-dasharray="12 5 3 5"/>
<polyline points="633.4,1097.6 639.4,1100.6 639.4,1112.8 639.4,1126.2 647.9,1126.8 650.4,1129.8 656.4,1125.5 660.1,1119.5 673.4,1118.9 685.5,1126.5 702.6,1131.6 717.2,1132.2 722.0,1136.5 731.7,1133.4 736.6,1126.8 741.5,1125.5 746.3,1121.9 757.3,1121.9 757.9,1129.2" fill="none" stroke="#151515" stroke-width="2.6" stroke-linejoin="round" stroke-dasharray="12 5 3 5"/>
<polyline points="639.6,1057.3 642.0,1049.4 648.1,1043.4 659.0,1041.0 680.9,1041.0 689.4,1037.9 693.0,1031.8 697.9,1027.0 705.0,1023.0 712.5,1019.7 729.5,1019.1 734.3,1016.0 758.6,1016.0" fill="none" stroke="#10109a" stroke-width="2.6" stroke-linejoin="round" stroke-dasharray="2.6 2.8"/>
<polyline points="639.6,895.8 642.6,901.9 642.6,926.8 648.1,926.2 652.9,929.8 659.0,925.0 661.4,921.3 667.5,918.3 684.5,918.3 689.4,920.1 694.2,926.2 697.9,931.0 708.0,931.0 718.5,932.2 724.6,937.1 729.5,932.2 735.5,933.4 738.0,927.4 745.2,926.2 748.9,921.3 757.4,921.3 759.8,926.8" fill="none" stroke="#1818ff" stroke-width="2.6" stroke-linejoin="round" stroke-dasharray="2.6 2.8"/>
<polyline points="235.5,1248.8 244.6,1236.7 251.9,1234.9 285.9,1232.4 295.0,1223.6 307.7,1213.6 322.3,1212.4 329.6,1210.6 357.5,1210.6" fill="none" stroke="#0a9a0a" stroke-width="2.6" stroke-linejoin="round" stroke-dasharray="9 2.5"/>
<polyline points="236.7,1089.7 241.5,1092.1 241.5,1117.7 248.2,1117.7 252.5,1122.5 262.8,1111.6 283.4,1111.6 298.0,1123.7 309.6,1121.9 322.3,1128.0 334.5,1126.2 336.9,1120.0 347.8,1114.6 358.7,1114.6 359.4,1120.7" fill="none" stroke="#10f010" stroke-width="2.6" stroke-linejoin="round" stroke-dasharray="15 3"/>
<polyline points="236.1,1060.2 244.2,1048.7 252.9,1046.0 279.9,1045.4 286.7,1043.3 294.8,1031.9 302.8,1028.5 310.9,1026.5 328.5,1023.8 332.5,1021.8 356.8,1021.8" fill="none" stroke="#9e0c0c" stroke-width="2.6" stroke-linejoin="round"/>
<polyline points="244.2,888.2 248.9,890.9 248.9,915.9 255.0,916.5 259.0,920.6 269.1,910.5 293.4,910.5 304.9,924.0 313.0,923.5 324.4,923.3 329.2,928.7 335.2,925.3 340.6,926.0 343.3,918.6 351.4,915.9 354.1,913.2 364.9,913.2 366.9,920.0" fill="none" stroke="#ff0a0a" stroke-width="2.6" stroke-linejoin="round"/>
<polygon points="703.0,1204.0 713.5,1214.0 703.0,1224.0 692.5,1214.0" fill="#222"/>
<polygon points="685.5,1113.0 688.3,1115.9 692.2,1114.8 693.3,1118.7 697.2,1119.8 696.1,1123.7 699.0,1126.5 696.1,1129.3 697.2,1133.2 693.3,1134.3 692.2,1138.2 688.3,1137.1 685.5,1140.0 682.7,1137.1 678.8,1138.2 677.7,1134.3 673.8,1133.2 674.9,1129.3 672.0,1126.5 674.9,1123.7 673.8,1119.8 677.7,1118.7 678.8,1114.8 682.7,1115.9" fill="#282424"/>
<circle cx="705" cy="1023.3" r="7.3" fill="#3a302e"/>
<polygon points="702.0,922.5 714.0,922.5 717.0,938.5 699.0,938.5" fill="#382f2d"/><rect x="698.5" y="937.5" width="19" height="3" fill="#a9a3a1"/>
<rect x="287" y="1215" width="16" height="17.4" fill="#000"/>
<polygon points="309.6,1111.5 312.3,1118.8 320.1,1119.1 314.0,1123.9 316.1,1131.4 309.6,1127.1 303.1,1131.4 305.2,1123.9 299.1,1119.1 306.9,1118.8" fill="#332b29"/>
<circle cx="302.8" cy="1028.5" r="8" fill="#000"/>
<polygon points="322.3,923.5 306.3,930.5 306.3,916.5" fill="#000"/>
<text x="522" y="848.6" font-family="Liberation Serif" font-size="62" fill="#2b2422" textLength="200" lengthAdjust="spacing">Legend</text>
<text x="382.4" y="941.5" font-family="Liberation Serif" font-style="italic" font-size="62" fill="#2b2422" textLength="201.5" lengthAdjust="spacing">Line a1</text>
<text x="377.6" y="1053.5" font-family="Liberation Serif" font-style="italic" font-size="62" fill="#2b2422" textLength="200" lengthAdjust="spacing">Line a2</text>
<text x="379.6" y="1142" font-family="Liberation Serif" font-style="italic" font-size="62" fill="#2b2422" textLength="199.5" lengthAdjust="spacing">Line b1</text>
<text x="379.6" y="1237.8" font-family="Liberation Serif" font-style="italic" font-size="62" fill="#2b2422" textLength="198" lengthAdjust="spacing">Line b2</text>
<text x="776.3" y="949.4" font-family="Liberation Serif" font-style="italic" font-size="62" fill="#2b2422" textLength="196" lengthAdjust="spacing">Line c1</text>
<text x="778.3" y="1047" font-family="Liberation Serif" font-style="italic" font-size="62" fill="#2b2422" textLength="200" lengthAdjust="spacing">Line c2</text>
<text x="772.6" y="1147.5" font-family="Liberation Serif" font-style="italic" font-size="62" fill="#2b2422" textLength="199.4" lengthAdjust="spacing">Line d1</text>
<text x="772.6" y="1236.5" font-family="Liberation Serif" font-style="italic" font-size="62" fill="#2b2422" textLength="200" lengthAdjust="spacing">Line d2</text>
</svg></body></html>
